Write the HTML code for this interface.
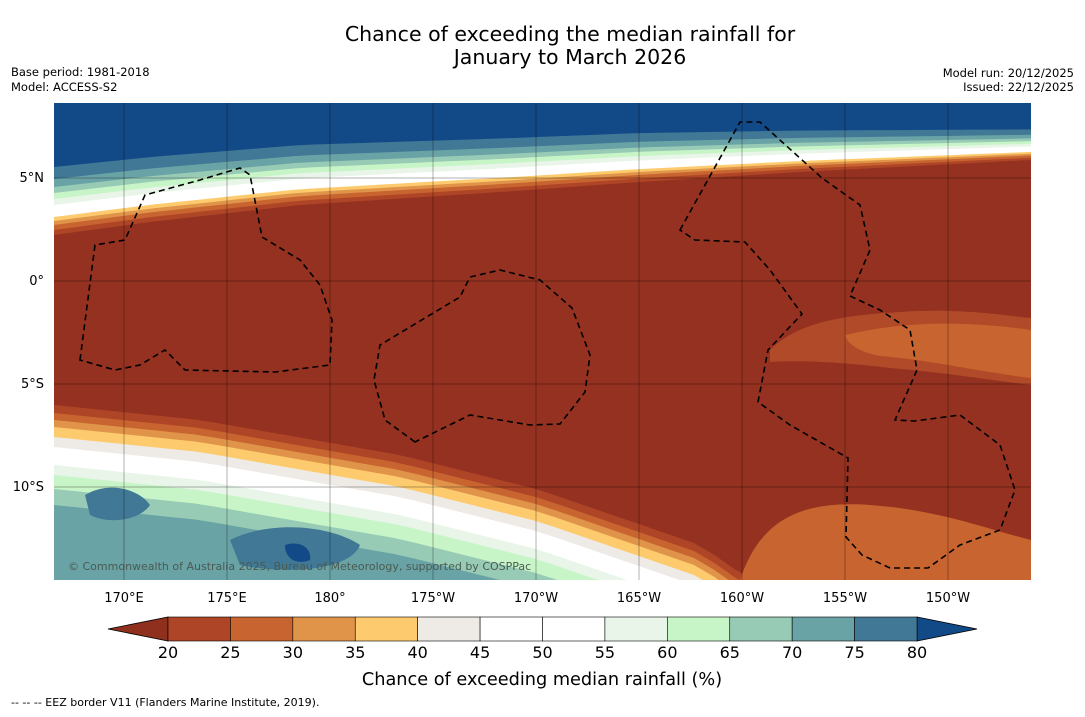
<!DOCTYPE html>
<html><head><meta charset="utf-8"><style>
body{margin:0;background:#fff;font-family:"DejaVu Sans",sans-serif;}
svg text{font-family:"DejaVu Sans","Liberation Sans",sans-serif;}
</style></head><body>
<svg id="chart" width="1085" height="713" viewBox="0 0 1085 713">
<rect width="1085" height="713" fill="#fff"/>
<text x="570" y="41" font-size="20.5" text-anchor="middle">Chance of exceeding the median rainfall for</text>
<text x="570" y="64" font-size="20.5" text-anchor="middle">January to March 2026</text>
<text x="11" y="76" font-size="11.5">Base period: 1981-2018</text>
<text x="11" y="91" font-size="11.5">Model: ACCESS-S2</text>
<text x="1074" y="77" font-size="11.5" text-anchor="end">Model run: 20/12/2025</text>
<text x="1074" y="91" font-size="11.5" text-anchor="end">Issued: 22/12/2025</text>
<defs><clipPath id="mapclip"><rect x="54" y="103" width="977" height="477"/></clipPath></defs>
<g id="map" clip-path="url(#mapclip)">
<rect x="54" y="103" width="977" height="477" fill="#943120"/>
</g>
<g id="eez" fill="none" stroke="#000" stroke-width="1.6" stroke-dasharray="6,4">
<path d="M80,360 L95,245 L125,240 L145,195 L200,180 L240,168 L250,175 L262,237 L300,260 L320,285 L332,320 L330,365 L275,372 L185,370 L165,350 L140,365 L115,370 Z"/>
<path d="M415,442 L385,420 L374,380 L380,345 L460,297 L470,277 L500,270 L540,280 L572,308 L590,355 L585,392 L560,424 L530,425 L470,415 Z"/>
<path d="M680,230 L740,122 L760,122 L822,178 L860,205 L870,250 L850,296 L880,310 L910,330 L917,370 L895,420 L915,421 L960,415 L1000,445 L1015,490 L1000,530 L960,545 L928,568 L890,568 L862,555 L846,537 L848,458 L790,425 L758,402 L768,350 L802,314 L770,270 L745,242 L695,240 Z"/>
</g>
<text x="68" y="570" font-size="11" fill="#4a5a50">© Commonwealth of Australia 2025, Bureau of Meteorology, supported by COSPPac</text>
<g id="axes"></g>
<g id="cbar"></g>
<text x="542" y="685" font-size="17.7" text-anchor="middle">Chance of exceeding median rainfall (%)</text>
<text x="11" y="706" font-size="11">--  --  -- EEZ border V11 (Flanders Marine Institute, 2019).</text>
</svg>
<script>
const NS="http://www.w3.org/2000/svg";
const lonTicks=["170°E","175°E","180°","175°W","170°W","165°W","160°W","155°W","150°W"];
const lonValues=[170,175,180,185,190,195,200,205,210];
const latTicks=["5°N","0°","5°S","10°S"];
const latValues=[5,0,-5,-10];
const cbarLevels=[20,25,30,35,40,45,50,55,60,65,70,75,80];
const cbarColors=["#ae4527","#c8642f","#e0944a","#fdcb6e","#eeebe6","#ffffff","#ffffff","#e8f5e8","#c8f5c8","#98cbb5","#6aa3a6","#417896"];
const lowColor="#8f2f1e", highColor="#124a87";
const xLon=l=>124+(l-170)*20.6;
const yLat=l=>281-l*20.6;
function mk(tag,attrs,parent){const e=document.createElementNS(NS,tag);for(const k in attrs)e.setAttribute(k,attrs[k]);parent.appendChild(e);return e;}
const map=document.getElementById('map');
function interp(p,x){for(let i=0;i<p.length-1;i++){if(x<=p[i+1][0]){const t=(x-p[i][0])/(p[i+1][0]-p[i][0]);return p[i][1]+t*(p[i+1][1]-p[i][1]);}}return p[p.length-1][1];}
const R=x=>interp([[54,235],[150,222],[300,205],[500,192],[640,182],[800,172],[1031,160]],x);
const S=x=>interp([[54,1.0],[640,0.72],[1031,0.45]],x);
const topLayers=[["#ae4527",0],["#c8642f",-5],["#e0944a",-10],["#fdcb6e",-14],["#ffffff",-18],["#e8f5e8",-30],["#c8f5c8",-36],["#98cbb5",-42],["#6aa3a6",-48],["#417896",-56],["#124a87",-68]];
topLayers.forEach(([c,d])=>{let pts="54,103 ";for(let x=54;x<=1031;x+=20)pts+=x+","+(R(x)+d*S(x))+" ";pts+="1031,"+(R(1031)+d*S(1031))+" 1031,103";const p=mk('polygon',{points:pts,fill:c},map);

});
const mp=mk('path',{d:"M770,350 C800,320 850,315 900,312 C960,308 1000,315 1031,318 L1031,385 C990,380 940,372 890,368 C840,362 800,360 770,362 Z",fill:"#b04a28"},map);


const mp2=mk('path',{d:"M845,335 C900,322 960,320 1031,330 L1031,378 C980,372 930,360 880,356 C860,352 848,345 845,335 Z",fill:"#c8642f"},map);


const B=x=>interp([[54,405],[200,420],[400,455],[540,490],[700,545],[750,580],[1031,600]],x);
const botLayers=[["#ae4527",0],["#c8642f",8],["#e0944a",15],["#fdcb6e",22],["#eeebe6",32],["#ffffff",42],["#e8f5e8",60],["#c8f5c8",70],["#98cbb5",84],["#6aa3a6",100]];
botLayers.forEach(([c,d])=>{let pts="54,580 ";for(let x=54;x<=1031;x+=20)pts+=x+","+(B(x)+d)+" ";pts+="1031,"+(B(1031)+d)+" 1031,580";const p=mk('polygon',{points:pts,fill:c},map);

});
[["M85,495 C110,480 140,490 150,505 C140,520 110,525 90,515 Z","#417896"],["M230,540 C270,520 330,525 360,545 C350,570 290,575 240,565 Z","#417896"],["M285,545 C300,540 312,548 310,560 C298,565 285,560 285,545 Z","#124a87"],["M740,580 C760,520 800,500 870,505 C940,510 990,530 1031,540 L1031,580 Z","#c8642f"]].forEach(([d,c])=>{const p=mk('path',{d:d,fill:c},map);

});
const ax=document.getElementById('axes');
lonValues.forEach((v,i)=>{const x=xLon(v);const l=mk('line',{x1:x,x2:x,y1:103,y2:580,stroke:"#000","stroke-width":0.5,"stroke-opacity":0.6},ax);


const t=mk('text',{x:x,y:602,"font-size":13,"text-anchor":"middle"},ax);t.textContent=lonTicks[i];

});
latValues.forEach((v,i)=>{const y=yLat(v);const l=mk('line',{x1:54,x2:1031,y1:y,y2:y,stroke:"#000","stroke-width":0.5,"stroke-opacity":0.6},ax);


const t=mk('text',{x:44,y:y+4,"font-size":13,"text-anchor":"end"},ax);t.textContent=latTicks[i];

});
const cb=document.getElementById('cbar');
const cx0=168,cx1=917,cy=617,ch=24;
const cw=(cx1-cx0)/cbarColors.length;
const le=mk('polygon',{points:`108,629 ${cx0},${cy} ${cx0},${cy+ch}`,fill:lowColor,stroke:"#000","stroke-width":0.8},cb);


const he=mk('polygon',{points:`977,629 ${cx1},${cy} ${cx1},${cy+ch}`,fill:highColor,stroke:"#000","stroke-width":0.8},cb);


cbarColors.forEach((c,i)=>{const r=mk('rect',{x:cx0+i*cw,y:cy,width:cw,height:ch,fill:c,stroke:"#000","stroke-width":0.6},cb);

});
cbarLevels.forEach((v,i)=>{const t=mk('text',{x:cx0+i*cw,y:658,"font-size":16,"text-anchor":"middle"},cb);t.textContent=v;

});
</script>
</body></html>
